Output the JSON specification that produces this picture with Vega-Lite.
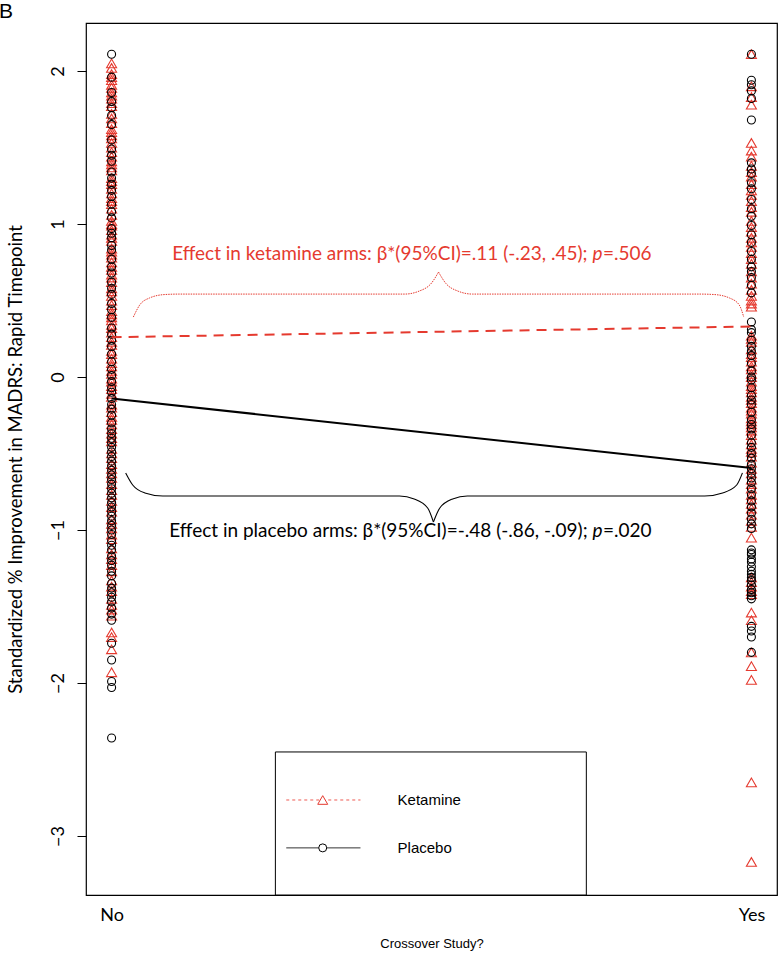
{
  "$schema": "https://vega.github.io/schema/vega-lite/v6.json",
  "width": 691,
  "height": 872,
  "autosize": {"type": "none"},
  "padding": {"left": 86, "top": 23, "right": 1, "bottom": 60},
  "background": "white",
  "config": {"view": {"stroke": "#000", "strokeWidth": 1.2}},
  "encoding": {
    "x": {"field": "c", "type": "quantitative", "scale": {"domain": [-0.04, 1.04], "nice": false, "zero": false},
      "axis": {"values": [0, 1], "labelExpr": "datum.value == 0 ? 'No' : 'Yes'", "ticks": false, "domain": false, "grid": false, "labelFont": "Lato", "labelFontSize": 18, "labelColor": "#000", "labelPadding": 11,
        "title": "Crossover Study?", "titleFont": "Liberation Sans", "titleFontSize": 13, "titleFontWeight": "normal", "titleColor": "#000", "titleY": 48, "titleBaseline": "middle"}},
    "y": {"field": "v", "type": "quantitative", "scale": {"domain": [-3.386, 2.314], "nice": false, "zero": false},
      "axis": {"values": [-3, -2, -1, 0, 1, 2], "tickSize": 9, "tickColor": "#000", "tickWidth": 1, "domain": false, "grid": false, "labelAngle": -90, "labelFont": "Lato", "labelFontSize": 18, "labelColor": "#000", "labelPadding": 10,
        "title": "Standardized % Improvement in MADRS: Rapid Timepoint", "titleFont": "Lato", "titleFontSize": 18.5, "titleFontWeight": "normal", "titleColor": "#000", "titleX": -71, "titleBaseline": "middle"}}
  },
  "layer": [
    {
      "data": {"values": [
        {"c":0,"arm":"Ketamine","v":2.05},{"c":0,"arm":"Ketamine","v":2.02},{"c":0,"arm":"Ketamine","v":1.98},{"c":0,"arm":"Ketamine","v":1.94},{"c":0,"arm":"Ketamine","v":1.91},{"c":0,"arm":"Ketamine","v":1.89},{"c":0,"arm":"Ketamine","v":1.84},{"c":0,"arm":"Ketamine","v":1.82},{"c":0,"arm":"Ketamine","v":1.77},{"c":0,"arm":"Ketamine","v":1.72},{"c":0,"arm":"Ketamine","v":1.66},{"c":0,"arm":"Ketamine","v":1.62},{"c":0,"arm":"Ketamine","v":1.60},{"c":0,"arm":"Ketamine","v":1.56},{"c":0,"arm":"Ketamine","v":1.53},{"c":0,"arm":"Ketamine","v":1.50},{"c":0,"arm":"Ketamine","v":1.47},{"c":0,"arm":"Ketamine","v":1.44},{"c":0,"arm":"Ketamine","v":1.41},{"c":0,"arm":"Ketamine","v":1.37},{"c":0,"arm":"Ketamine","v":1.35},{"c":0,"arm":"Ketamine","v":1.30},{"c":0,"arm":"Ketamine","v":1.28},{"c":0,"arm":"Ketamine","v":1.23},{"c":0,"arm":"Ketamine","v":1.20},{"c":0,"arm":"Ketamine","v":1.17},{"c":0,"arm":"Ketamine","v":1.15},{"c":0,"arm":"Ketamine","v":1.10},{"c":0,"arm":"Ketamine","v":1.06},{"c":0,"arm":"Ketamine","v":1.02},{"c":0,"arm":"Ketamine","v":0.99},{"c":0,"arm":"Ketamine","v":0.96},{"c":0,"arm":"Ketamine","v":0.91},{"c":0,"arm":"Ketamine","v":0.89},{"c":0,"arm":"Ketamine","v":0.84},{"c":0,"arm":"Ketamine","v":0.80},{"c":0,"arm":"Ketamine","v":0.78},{"c":0,"arm":"Ketamine","v":0.72},{"c":0,"arm":"Ketamine","v":0.70},{"c":0,"arm":"Ketamine","v":0.65},{"c":0,"arm":"Ketamine","v":0.62},{"c":0,"arm":"Ketamine","v":0.58},{"c":0,"arm":"Ketamine","v":0.56},{"c":0,"arm":"Ketamine","v":0.50},{"c":0,"arm":"Ketamine","v":0.47},{"c":0,"arm":"Ketamine","v":0.43},{"c":0,"arm":"Ketamine","v":0.39},{"c":0,"arm":"Ketamine","v":0.37},{"c":0,"arm":"Ketamine","v":0.32},{"c":0,"arm":"Ketamine","v":0.29},{"c":0,"arm":"Ketamine","v":0.26},{"c":0,"arm":"Ketamine","v":0.21},{"c":0,"arm":"Ketamine","v":0.17},{"c":0,"arm":"Ketamine","v":0.15},{"c":0,"arm":"Ketamine","v":0.09},{"c":0,"arm":"Ketamine","v":0.07},{"c":0,"arm":"Ketamine","v":0.02},{"c":0,"arm":"Ketamine","v":-0.01},{"c":0,"arm":"Ketamine","v":-0.06},{"c":0,"arm":"Ketamine","v":-0.08},{"c":0,"arm":"Ketamine","v":-0.13},{"c":0,"arm":"Ketamine","v":-0.18},{"c":0,"arm":"Ketamine","v":-0.20},{"c":0,"arm":"Ketamine","v":-0.26},{"c":0,"arm":"Ketamine","v":-0.28},{"c":0,"arm":"Ketamine","v":-0.34},{"c":0,"arm":"Ketamine","v":-0.37},{"c":0,"arm":"Ketamine","v":-0.42},{"c":0,"arm":"Ketamine","v":-0.47},{"c":0,"arm":"Ketamine","v":-0.50},{"c":0,"arm":"Ketamine","v":-0.57},{"c":0,"arm":"Ketamine","v":-0.60},{"c":0,"arm":"Ketamine","v":-0.66},{"c":0,"arm":"Ketamine","v":-0.70},{"c":0,"arm":"Ketamine","v":-0.77},{"c":0,"arm":"Ketamine","v":-0.81},{"c":0,"arm":"Ketamine","v":-0.88},{"c":0,"arm":"Ketamine","v":-0.93},{"c":0,"arm":"Ketamine","v":-0.99},{"c":0,"arm":"Ketamine","v":-1.06},{"c":0,"arm":"Ketamine","v":-1.12},{"c":0,"arm":"Ketamine","v":-1.19},{"c":0,"arm":"Ketamine","v":-1.27},{"c":0,"arm":"Ketamine","v":-1.33},{"c":0,"arm":"Ketamine","v":-1.40},{"c":0,"arm":"Ketamine","v":-1.49},{"c":0,"arm":"Ketamine","v":-1.56},{"c":0,"arm":"Ketamine","v":-1.67},{"c":0,"arm":"Ketamine","v":-1.70},{"c":0,"arm":"Ketamine","v":-1.78},{"c":0,"arm":"Ketamine","v":-1.93},
        {"c":0,"arm":"Ketamine","v":1.96},{"c":0,"arm":"Ketamine","v":1.86},{"c":0,"arm":"Ketamine","v":1.79},{"c":0,"arm":"Ketamine","v":1.69},{"c":0,"arm":"Ketamine","v":1.58},{"c":0,"arm":"Ketamine","v":1.39},{"c":0,"arm":"Ketamine","v":1.26},{"c":0,"arm":"Ketamine","v":1.13},{"c":0,"arm":"Ketamine","v":1.00},{"c":0,"arm":"Ketamine","v":0.93},{"c":0,"arm":"Ketamine","v":0.82},{"c":0,"arm":"Ketamine","v":0.75},{"c":0,"arm":"Ketamine","v":0.67},{"c":0,"arm":"Ketamine","v":0.53},{"c":0,"arm":"Ketamine","v":0.41},{"c":0,"arm":"Ketamine","v":0.34},{"c":0,"arm":"Ketamine","v":0.23},{"c":0,"arm":"Ketamine","v":0.12},{"c":0,"arm":"Ketamine","v":0.04},{"c":0,"arm":"Ketamine","v":-0.03},{"c":0,"arm":"Ketamine","v":-0.11},{"c":0,"arm":"Ketamine","v":-0.23},{"c":0,"arm":"Ketamine","v":-0.31},{"c":0,"arm":"Ketamine","v":-0.40},{"c":0,"arm":"Ketamine","v":-0.53},{"c":0,"arm":"Ketamine","v":-0.63},{"c":0,"arm":"Ketamine","v":-0.74},{"c":0,"arm":"Ketamine","v":-0.85},{"c":0,"arm":"Ketamine","v":-0.96},{"c":0,"arm":"Ketamine","v":-1.03},{"c":0,"arm":"Ketamine","v":-1.16},{"c":0,"arm":"Ketamine","v":-1.23},{"c":0,"arm":"Ketamine","v":-1.37},{"c":0,"arm":"Ketamine","v":-1.45},{"c":0,"arm":"Ketamine","v":-1.52},
        {"c":0,"arm":"Placebo","v":2.11},{"c":0,"arm":"Placebo","v":1.96},{"c":0,"arm":"Placebo","v":1.86},{"c":0,"arm":"Placebo","v":1.80},{"c":0,"arm":"Placebo","v":1.76},{"c":0,"arm":"Placebo","v":1.71},{"c":0,"arm":"Placebo","v":1.55},{"c":0,"arm":"Placebo","v":1.49},{"c":0,"arm":"Placebo","v":1.41},{"c":0,"arm":"Placebo","v":1.34},{"c":0,"arm":"Placebo","v":1.26},{"c":0,"arm":"Placebo","v":1.18},{"c":0,"arm":"Placebo","v":1.13},{"c":0,"arm":"Placebo","v":1.04},{"c":0,"arm":"Placebo","v":0.97},{"c":0,"arm":"Placebo","v":0.91},{"c":0,"arm":"Placebo","v":0.83},{"c":0,"arm":"Placebo","v":0.77},{"c":0,"arm":"Placebo","v":0.68},{"c":0,"arm":"Placebo","v":0.62},{"c":0,"arm":"Placebo","v":0.54},{"c":0,"arm":"Placebo","v":0.48},{"c":0,"arm":"Placebo","v":0.39},{"c":0,"arm":"Placebo","v":0.32},{"c":0,"arm":"Placebo","v":0.24},{"c":0,"arm":"Placebo","v":0.15},{"c":0,"arm":"Placebo","v":0.10},{"c":0,"arm":"Placebo","v":0.01},{"c":0,"arm":"Placebo","v":-0.03},{"c":0,"arm":"Placebo","v":-0.10},{"c":0,"arm":"Placebo","v":-0.14},{"c":0,"arm":"Placebo","v":-0.21},{"c":0,"arm":"Placebo","v":-0.25},{"c":0,"arm":"Placebo","v":-0.30},{"c":0,"arm":"Placebo","v":-0.37},{"c":0,"arm":"Placebo","v":-0.40},{"c":0,"arm":"Placebo","v":-0.46},{"c":0,"arm":"Placebo","v":-0.49},{"c":0,"arm":"Placebo","v":-0.55},{"c":0,"arm":"Placebo","v":-0.58},{"c":0,"arm":"Placebo","v":-0.64},{"c":0,"arm":"Placebo","v":-0.67},{"c":0,"arm":"Placebo","v":-0.73},{"c":0,"arm":"Placebo","v":-0.76},{"c":0,"arm":"Placebo","v":-0.82},{"c":0,"arm":"Placebo","v":-0.85},{"c":0,"arm":"Placebo","v":-0.91},{"c":0,"arm":"Placebo","v":-0.94},{"c":0,"arm":"Placebo","v":-1.00},{"c":0,"arm":"Placebo","v":-1.03},{"c":0,"arm":"Placebo","v":-1.10},{"c":0,"arm":"Placebo","v":-1.13},{"c":0,"arm":"Placebo","v":-1.20},{"c":0,"arm":"Placebo","v":-1.23},{"c":0,"arm":"Placebo","v":-1.30},{"c":0,"arm":"Placebo","v":-1.35},{"c":0,"arm":"Placebo","v":-1.41},{"c":0,"arm":"Placebo","v":-1.47},{"c":0,"arm":"Placebo","v":-1.51},{"c":0,"arm":"Placebo","v":-1.59},{"c":0,"arm":"Placebo","v":-1.74},{"c":0,"arm":"Placebo","v":-1.85},{"c":0,"arm":"Placebo","v":-1.99},{"c":0,"arm":"Placebo","v":-2.03},{"c":0,"arm":"Placebo","v":-2.36},
        {"c":0,"arm":"Placebo","v":1.65},{"c":0,"arm":"Placebo","v":1.45},{"c":0,"arm":"Placebo","v":1.30},{"c":0,"arm":"Placebo","v":1.22},{"c":0,"arm":"Placebo","v":1.08},{"c":0,"arm":"Placebo","v":0.94},{"c":0,"arm":"Placebo","v":0.86},{"c":0,"arm":"Placebo","v":0.72},{"c":0,"arm":"Placebo","v":0.58},{"c":0,"arm":"Placebo","v":0.44},{"c":0,"arm":"Placebo","v":0.28},{"c":0,"arm":"Placebo","v":0.20},{"c":0,"arm":"Placebo","v":0.05},{"c":0,"arm":"Placebo","v":-0.07},{"c":0,"arm":"Placebo","v":-0.18},{"c":0,"arm":"Placebo","v":-0.34},{"c":0,"arm":"Placebo","v":-0.43},{"c":0,"arm":"Placebo","v":-0.52},{"c":0,"arm":"Placebo","v":-0.61},{"c":0,"arm":"Placebo","v":-0.70},{"c":0,"arm":"Placebo","v":-0.79},{"c":0,"arm":"Placebo","v":-0.88},{"c":0,"arm":"Placebo","v":-0.97},{"c":0,"arm":"Placebo","v":-1.07},{"c":0,"arm":"Placebo","v":-1.17},{"c":0,"arm":"Placebo","v":-1.27},{"c":0,"arm":"Placebo","v":-1.38},{"c":0,"arm":"Placebo","v":-1.44},{"c":0,"arm":"Placebo","v":-1.55},
        {"c":1,"arm":"Ketamine","v":2.11},{"c":1,"arm":"Ketamine","v":1.90},{"c":1,"arm":"Ketamine","v":1.83},{"c":1,"arm":"Ketamine","v":1.78},{"c":1,"arm":"Ketamine","v":1.53},{"c":1,"arm":"Ketamine","v":1.48},{"c":1,"arm":"Ketamine","v":1.44},{"c":1,"arm":"Ketamine","v":1.38},{"c":1,"arm":"Ketamine","v":1.31},{"c":1,"arm":"Ketamine","v":1.26},{"c":1,"arm":"Ketamine","v":1.19},{"c":1,"arm":"Ketamine","v":1.15},{"c":1,"arm":"Ketamine","v":1.08},{"c":1,"arm":"Ketamine","v":1.02},{"c":1,"arm":"Ketamine","v":0.98},{"c":1,"arm":"Ketamine","v":0.91},{"c":1,"arm":"Ketamine","v":0.85},{"c":1,"arm":"Ketamine","v":0.81},{"c":1,"arm":"Ketamine","v":0.74},{"c":1,"arm":"Ketamine","v":0.69},{"c":1,"arm":"Ketamine","v":0.61},{"c":1,"arm":"Ketamine","v":0.57},{"c":1,"arm":"Ketamine","v":0.50},{"c":1,"arm":"Ketamine","v":0.46},{"c":1,"arm":"Ketamine","v":0.27},{"c":1,"arm":"Ketamine","v":0.23},{"c":1,"arm":"Ketamine","v":0.18},{"c":1,"arm":"Ketamine","v":0.13},{"c":1,"arm":"Ketamine","v":0.10},{"c":1,"arm":"Ketamine","v":0.05},{"c":1,"arm":"Ketamine","v":0.02},{"c":1,"arm":"Ketamine","v":-0.03},{"c":1,"arm":"Ketamine","v":-0.06},{"c":1,"arm":"Ketamine","v":-0.10},{"c":1,"arm":"Ketamine","v":-0.13},{"c":1,"arm":"Ketamine","v":-0.17},{"c":1,"arm":"Ketamine","v":-0.20},{"c":1,"arm":"Ketamine","v":-0.24},{"c":1,"arm":"Ketamine","v":-0.27},{"c":1,"arm":"Ketamine","v":-0.31},{"c":1,"arm":"Ketamine","v":-0.35},{"c":1,"arm":"Ketamine","v":-0.38},{"c":1,"arm":"Ketamine","v":-0.44},{"c":1,"arm":"Ketamine","v":-0.49},{"c":1,"arm":"Ketamine","v":-0.56},{"c":1,"arm":"Ketamine","v":-0.60},{"c":1,"arm":"Ketamine","v":-0.67},{"c":1,"arm":"Ketamine","v":-0.73},{"c":1,"arm":"Ketamine","v":-0.80},{"c":1,"arm":"Ketamine","v":-0.86},{"c":1,"arm":"Ketamine","v":-0.94},{"c":1,"arm":"Ketamine","v":-1.05},{"c":1,"arm":"Ketamine","v":-1.31},{"c":1,"arm":"Ketamine","v":-1.37},{"c":1,"arm":"Ketamine","v":-1.42},{"c":1,"arm":"Ketamine","v":-1.54},{"c":1,"arm":"Ketamine","v":-1.59},{"c":1,"arm":"Ketamine","v":-1.80},{"c":1,"arm":"Ketamine","v":-1.89},{"c":1,"arm":"Ketamine","v":-1.98},{"c":1,"arm":"Ketamine","v":-2.65},{"c":1,"arm":"Ketamine","v":-3.17},
        {"c":1,"arm":"Ketamine","v":1.34},{"c":1,"arm":"Ketamine","v":1.22},{"c":1,"arm":"Ketamine","v":1.11},{"c":1,"arm":"Ketamine","v":0.95},{"c":1,"arm":"Ketamine","v":0.88},{"c":1,"arm":"Ketamine","v":0.77},{"c":1,"arm":"Ketamine","v":0.65},{"c":1,"arm":"Ketamine","v":0.53},{"c":1,"arm":"Ketamine","v":0.48},{"c":1,"arm":"Ketamine","v":0.25},{"c":1,"arm":"Ketamine","v":0.15},{"c":1,"arm":"Ketamine","v":0.07},{"c":1,"arm":"Ketamine","v":0.00},{"c":1,"arm":"Ketamine","v":-0.08},{"c":1,"arm":"Ketamine","v":-0.15},{"c":1,"arm":"Ketamine","v":-0.22},{"c":1,"arm":"Ketamine","v":-0.29},{"c":1,"arm":"Ketamine","v":-0.33},{"c":1,"arm":"Ketamine","v":-0.41},{"c":1,"arm":"Ketamine","v":-0.47},{"c":1,"arm":"Ketamine","v":-0.52},{"c":1,"arm":"Ketamine","v":-0.63},{"c":1,"arm":"Ketamine","v":-0.70},{"c":1,"arm":"Ketamine","v":-0.77},{"c":1,"arm":"Ketamine","v":-0.83},{"c":1,"arm":"Ketamine","v":-0.90},{"c":1,"arm":"Ketamine","v":-0.98},{"c":1,"arm":"Ketamine","v":-1.34},{"c":1,"arm":"Ketamine","v":-1.40},
        {"c":1,"arm":"Placebo","v":2.11},{"c":1,"arm":"Placebo","v":1.94},{"c":1,"arm":"Placebo","v":1.91},{"c":1,"arm":"Placebo","v":1.87},{"c":1,"arm":"Placebo","v":1.82},{"c":1,"arm":"Placebo","v":1.68},{"c":1,"arm":"Placebo","v":1.40},{"c":1,"arm":"Placebo","v":1.33},{"c":1,"arm":"Placebo","v":1.23},{"c":1,"arm":"Placebo","v":1.16},{"c":1,"arm":"Placebo","v":1.05},{"c":1,"arm":"Placebo","v":0.99},{"c":1,"arm":"Placebo","v":0.88},{"c":1,"arm":"Placebo","v":0.82},{"c":1,"arm":"Placebo","v":0.72},{"c":1,"arm":"Placebo","v":0.65},{"c":1,"arm":"Placebo","v":0.55},{"c":1,"arm":"Placebo","v":0.36},{"c":1,"arm":"Placebo","v":0.29},{"c":1,"arm":"Placebo","v":0.20},{"c":1,"arm":"Placebo","v":0.14},{"c":1,"arm":"Placebo","v":0.04},{"c":1,"arm":"Placebo","v":-0.02},{"c":1,"arm":"Placebo","v":-0.12},{"c":1,"arm":"Placebo","v":-0.18},{"c":1,"arm":"Placebo","v":-0.28},{"c":1,"arm":"Placebo","v":-0.34},{"c":1,"arm":"Placebo","v":-0.43},{"c":1,"arm":"Placebo","v":-0.50},{"c":1,"arm":"Placebo","v":-0.57},{"c":1,"arm":"Placebo","v":-0.63},{"c":1,"arm":"Placebo","v":-0.69},{"c":1,"arm":"Placebo","v":-0.77},{"c":1,"arm":"Placebo","v":-0.81},{"c":1,"arm":"Placebo","v":-0.89},{"c":1,"arm":"Placebo","v":-0.93},{"c":1,"arm":"Placebo","v":-0.99},{"c":1,"arm":"Placebo","v":-1.13},{"c":1,"arm":"Placebo","v":-1.16},{"c":1,"arm":"Placebo","v":-1.21},{"c":1,"arm":"Placebo","v":-1.24},{"c":1,"arm":"Placebo","v":-1.29},{"c":1,"arm":"Placebo","v":-1.33},{"c":1,"arm":"Placebo","v":-1.36},{"c":1,"arm":"Placebo","v":-1.41},{"c":1,"arm":"Placebo","v":-1.45},{"c":1,"arm":"Placebo","v":-1.63},{"c":1,"arm":"Placebo","v":-1.66},{"c":1,"arm":"Placebo","v":-1.70},{"c":1,"arm":"Placebo","v":-1.80},
        {"c":1,"arm":"Placebo","v":1.36},{"c":1,"arm":"Placebo","v":1.27},{"c":1,"arm":"Placebo","v":1.10},{"c":1,"arm":"Placebo","v":0.93},{"c":1,"arm":"Placebo","v":0.77},{"c":1,"arm":"Placebo","v":0.69},{"c":1,"arm":"Placebo","v":0.60},{"c":1,"arm":"Placebo","v":0.31},{"c":1,"arm":"Placebo","v":0.24},{"c":1,"arm":"Placebo","v":0.17},{"c":1,"arm":"Placebo","v":0.09},{"c":1,"arm":"Placebo","v":0.00},{"c":1,"arm":"Placebo","v":-0.07},{"c":1,"arm":"Placebo","v":-0.15},{"c":1,"arm":"Placebo","v":-0.23},{"c":1,"arm":"Placebo","v":-0.31},{"c":1,"arm":"Placebo","v":-0.38},{"c":1,"arm":"Placebo","v":-0.46},{"c":1,"arm":"Placebo","v":-0.53},{"c":1,"arm":"Placebo","v":-0.60},{"c":1,"arm":"Placebo","v":-0.66},{"c":1,"arm":"Placebo","v":-0.73},{"c":1,"arm":"Placebo","v":-0.85},{"c":1,"arm":"Placebo","v":-0.96},{"c":1,"arm":"Placebo","v":-1.15},{"c":1,"arm":"Placebo","v":-1.19},{"c":1,"arm":"Placebo","v":-1.27},{"c":1,"arm":"Placebo","v":-1.31},{"c":1,"arm":"Placebo","v":-1.39},{"c":1,"arm":"Placebo","v":-1.43}
      ]},
      "mark": {"type": "point", "filled": false, "strokeWidth": 1.1, "opacity": 1},
      "encoding": {
        "shape": {"field": "arm", "type": "nominal", "scale": {"domain": ["Ketamine", "Placebo"], "range": ["triangle-up", "circle"]}, "legend": null},
        "color": {"field": "arm", "type": "nominal", "scale": {"domain": ["Ketamine", "Placebo"], "range": ["#e53a2f", "#000000"]}, "legend": null},
        "size": {"field": "arm", "type": "nominal", "scale": {"domain": ["Ketamine", "Placebo"], "range": [100, 64]}, "legend": null}
      }
    },
    {
      "data": {"values": [{"arm": "Ketamine", "c": 0, "v": 0.26}, {"arm": "Ketamine", "c": 1, "v": 0.33}]},
      "mark": {"type": "line", "color": "#e53a2f", "strokeWidth": 2, "strokeDash": [10, 7]},
      "encoding": {}
    },
    {
      "data": {"values": [{"arm": "Placebo", "c": 0, "v": -0.14}, {"arm": "Placebo", "c": 1, "v": -0.595}]},
      "mark": {"type": "line", "color": "#000000", "strokeWidth": 2},
      "encoding": {}
    },
    {
      "data": {"values": [
        {"half":"L","c":0.034,"v":0.392},{"half":"L","c":0.044,"v":0.471},{"half":"L","c":0.059,"v":0.516},{"half":"L","c":0.083,"v":0.539},{"half":"L","c":0.106,"v":0.542},{"half":"L","c":0.458,"v":0.542},{"half":"L","c":0.481,"v":0.562},{"half":"L","c":0.500,"v":0.614},{"half":"L","c":0.511,"v":0.686},
        {"half":"R","c":0.511,"v":0.686},{"half":"R","c":0.522,"v":0.614},{"half":"R","c":0.541,"v":0.562},{"half":"R","c":0.564,"v":0.542},{"half":"R","c":0.919,"v":0.542},{"half":"R","c":0.942,"v":0.539},{"half":"R","c":0.966,"v":0.516},{"half":"R","c":0.981,"v":0.471},{"half":"R","c":0.988,"v":0.392}
      ]},
      "mark": {"type": "line", "color": "#e53a2f", "strokeWidth": 1, "strokeDash": [1.5, 1], "interpolate": "monotone"},
      "encoding": {"detail": {"field": "half", "type": "nominal"}}
    },
    {
      "data": {"values": [
        {"half":"L","c":0.022,"v":-0.627},{"half":"L","c":0.033,"v":-0.706},{"half":"L","c":0.052,"v":-0.758},{"half":"L","c":0.080,"v":-0.778},{"half":"L","c":0.450,"v":-0.778},{"half":"L","c":0.473,"v":-0.797},{"half":"L","c":0.494,"v":-0.856},{"half":"L","c":0.503,"v":-0.948},
        {"half":"R","c":0.503,"v":-0.948},{"half":"R","c":0.513,"v":-0.856},{"half":"R","c":0.533,"v":-0.797},{"half":"R","c":0.556,"v":-0.778},{"half":"R","c":0.927,"v":-0.778},{"half":"R","c":0.955,"v":-0.758},{"half":"R","c":0.977,"v":-0.706},{"half":"R","c":0.986,"v":-0.627}
      ]},
      "mark": {"type": "line", "color": "#000000", "strokeWidth": 1.1, "interpolate": "monotone"},
      "encoding": {"detail": {"field": "half", "type": "nominal"}}
    },
    {
      "data": {"values": [
        {"c": 0.844, "v": 0.765, "label": "Effect in ketamine arms: β*(95%CI)=.11 (-.23, .45);", "color": "#e53a2f"},
        {"c": 0.844, "v": -1.046, "label": "Effect in placebo arms: β*(95%CI)=-.48 (-.86, -.09);", "color": "#000000"}
      ]},
      "mark": {"type": "text", "align": "right", "baseline": "alphabetic", "dx": -64, "font": "Lato", "fontSize": 19},
      "encoding": {"text": {"field": "label"}, "color": {"field": "color", "type": "nominal", "scale": null}}
    },
    {
      "data": {"values": [
        {"c": 0.844, "v": 0.765, "label": "p", "color": "#e53a2f"},
        {"c": 0.844, "v": -1.046, "label": "p", "color": "#000000"}
      ]},
      "mark": {"type": "text", "align": "right", "baseline": "alphabetic", "dx": -49, "font": "Lato", "fontStyle": "italic", "fontSize": 19},
      "encoding": {"text": {"field": "label"}, "color": {"field": "color", "type": "nominal", "scale": null}}
    },
    {
      "data": {"values": [
        {"c": 0.844, "v": 0.765, "label": "=.506", "color": "#e53a2f"},
        {"c": 0.844, "v": -1.046, "label": "=.020", "color": "#000000"}
      ]},
      "mark": {"type": "text", "align": "right", "baseline": "alphabetic", "font": "Lato", "fontSize": 19},
      "encoding": {"text": {"field": "label"}, "color": {"field": "color", "type": "nominal", "scale": null}}
    },
    {
      "data": {"values": [{"c": 0.256, "c2": 0.742, "v": -2.451, "v2": -3.386}]},
      "mark": {"type": "rect", "fill": "white", "stroke": "#000", "strokeWidth": 1},
      "encoding": {"x2": {"field": "c2"}, "y2": {"field": "v2"}}
    },
    {
      "data": {"values": [{"arm": "Ketamine", "c": 0.273, "v": -2.765}, {"arm": "Ketamine", "c": 0.389, "v": -2.765}]},
      "mark": {"type": "line", "color": "#ee5a52", "strokeWidth": 1, "strokeDash": [3, 3]},
      "encoding": {}
    },
    {
      "data": {"values": [{"arm": "Placebo", "c": 0.273, "v": -3.078}, {"arm": "Placebo", "c": 0.389, "v": -3.078}]},
      "mark": {"type": "line", "color": "#333333", "strokeWidth": 1},
      "encoding": {}
    },
    {
      "data": {"values": [{"arm": "Ketamine", "c": 0.330, "v": -2.765}, {"arm": "Placebo", "c": 0.330, "v": -3.078}]},
      "mark": {"type": "point", "filled": false, "strokeWidth": 1, "opacity": 1, "fill": "white"},
      "encoding": {
        "shape": {"field": "arm", "type": "nominal", "scale": {"domain": ["Ketamine", "Placebo"], "range": ["triangle-up", "circle"]}, "legend": null},
        "color": {"field": "arm", "type": "nominal", "scale": {"domain": ["Ketamine", "Placebo"], "range": ["#e53a2f", "#000000"]}, "legend": null},
        "size": {"field": "arm", "type": "nominal", "scale": {"domain": ["Ketamine", "Placebo"], "range": [100, 64]}, "legend": null}
      }
    },
    {
      "data": {"values": [{"c": 0.447, "v": -2.765, "label": "Ketamine"}, {"c": 0.447, "v": -3.078, "label": "Placebo"}]},
      "mark": {"type": "text", "align": "left", "baseline": "middle", "font": "Liberation Sans", "fontSize": 15, "color": "#000"},
      "encoding": {"text": {"field": "label"}}
    },
    {
      "data": {"values": [{"c": -0.165, "v": 2.346, "label": "B"}]},
      "mark": {"type": "text", "align": "center", "baseline": "alphabetic", "font": "Liberation Sans", "fontSize": 21, "color": "#000"},
      "encoding": {"text": {"field": "label"}}
    }
  ]
}
